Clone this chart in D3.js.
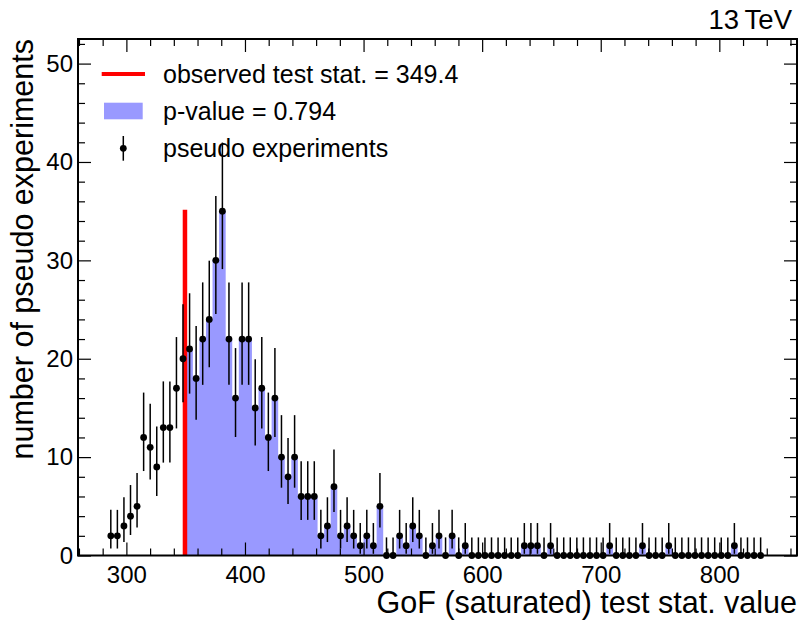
<!DOCTYPE html>
<html>
<head>
<meta charset="utf-8">
<script src="https://cdn.jsdelivr.net/npm/d3@7"></script>
<style>
  body { margin: 0; background: #fff; }
  text { font-family: "Liberation Sans", Arial, Helvetica, sans-serif; fill: #000; }
</style>
</head>
<body>
<svg id="chart" width="798" height="625"></svg>
<script>
// histogram of toy test statistics (100 bins)
var binLow = 284.1, binWidth = 5.535;
var counts = [2, 2, 3, 4, 5, 12, 11, 9, 13, 13,
              17, 20, 21, 18, 22, 24, 30, 35, 22, 16,
              22, 22, 15, 17, 12, 16, 10, 8, 10, 6,
              6, 6, 2, 3, 7, 2, 3, 2, 1, 2,
              1, 5, 0, 0, 2, 1, 3, 2, 0, 1,
              2, 0, 2, 0, 1, 0, 0, 0, 0, 0,
              0, 0, 0, 1, 1, 1, 0, 1, 0, 0,
              0, 0, 0, 0, 0, 0, 1, 0, 0, 0,
              0, 1, 0, 0, 0, 1, 0, 0, 0, 0,
              0, 0, 0, 0, 0, 1, 0, 0, 0, 0];
var observed = 349.4;
var pValue = "0.794";
var xTicks = [300, 400, 500, 600, 700, 800];
var yTicks = [0, 10, 20, 30, 40, 50];
var legendLabels = ["observed test stat. = " + observed, "p-value = " + pValue, "pseudo experiments"];

var padL = 78, padR = 797, padT = 39, padB = 555.5;
var svg = d3.select("#chart");

var x = d3.scaleLinear().domain([259.2, 865.5]).range([padL, padR]);
var y = d3.scaleLinear().domain([0, 52.5]).range([padB, padT]);

var bins = counts.map(function(n, i) {
    return { n: n, lo: binLow + i * binWidth, hi: binLow + (i + 1) * binWidth };
});

// Garwood (central 68.27%) poisson interval, integer shape so P(a,x) is a finite sum
function gammaP(a, t) {
    if (t <= 0) return 0;
    var term = 1, sum = 1;
    for (var k = 1; k < a; k++) { term *= t / k; sum += term; }
    return 1 - Math.exp(-t) * sum;
}
function gammaQuantile(p, a) {
    var lo = 0, hi = 200;
    for (var it = 0; it < 80; it++) {
        var mid = (lo + hi) / 2;
        if (gammaP(a, mid) < p) lo = mid; else hi = mid;
    }
    return (lo + hi) / 2;
}
var alpha = 1 - 0.682689;
bins.forEach(function(d) {
    d.low = d.n === 0 ? 0 : gammaQuantile(alpha / 2, d.n);
    d.up = gammaQuantile(1 - alpha / 2, d.n + 1);
});

// p-value area: step outline of the bins above the observed value
var tail = bins.filter(function(d) { return d.hi > observed; });
var steps = tail.map(function(d) { return { v: Math.max(d.lo, observed), n: d.n }; });
steps.push({ v: tail[tail.length - 1].hi, n: tail[tail.length - 1].n });
svg.append("path")
    .datum(steps)
    .attr("d", d3.area()
        .x(function(d) { return x(d.v); })
        .y0(y(0))
        .y1(function(d) { return y(d.n); })
        .curve(d3.curveStepAfter))
    .attr("fill", "#9999ff");

// observed line
svg.append("line")
    .attr("x1", x(observed)).attr("x2", x(observed))
    .attr("y1", y(0)).attr("y2", y(d3.max(counts) + 0.15))
    .attr("stroke", "#ff0000").attr("stroke-width", 4.5);

// pseudo experiments
var pts = svg.append("g");
pts.selectAll("line")
    .data(bins).enter().append("line")
    .attr("x1", function(d) { return x((d.lo + d.hi) / 2); })
    .attr("x2", function(d) { return x((d.lo + d.hi) / 2); })
    .attr("y1", function(d) { return y(d.low); })
    .attr("y2", function(d) { return y(d.up); })
    .attr("stroke", "#000").attr("stroke-width", 1.5);
pts.selectAll("circle")
    .data(bins).enter().append("circle")
    .attr("cx", function(d) { return x((d.lo + d.hi) / 2); })
    .attr("cy", function(d) { return y(d.n); })
    .attr("r", 3.4)
    .attr("fill", "#000");

// axes: ticks point inwards on all four sides
function minor(step, a, b) { return d3.range(a, b + 0.001, step); }
var xMinor = minor(20, 260, 860).filter(function(v) { return xTicks.indexOf(v) < 0; });
var yMinor = minor(2, 0, 52).filter(function(v) { return yTicks.indexOf(v) < 0; });

function addAxis(axis, tr, values, size, labels) {
    var g = svg.append("g").attr("transform", tr)
        .call(axis.tickValues(values).tickSizeInner(-size).tickSizeOuter(0)
            .tickFormat(labels ? d3.format("d") : ""));
    g.select(".domain").remove();
    g.selectAll("line").attr("stroke", "#000").attr("stroke-width", 1.2);
    return g;
}

var xb = addAxis(d3.axisBottom(x).tickPadding(10.5), "translate(0," + padB + ")", xTicks, 13, true);
addAxis(d3.axisBottom(x), "translate(0," + padB + ")", xMinor, 7, false);
addAxis(d3.axisTop(x), "translate(0," + padT + ")", xTicks, 13, false);
addAxis(d3.axisTop(x), "translate(0," + padT + ")", xMinor, 7, false);
var yl = addAxis(d3.axisLeft(y).tickPadding(5), "translate(" + padL + ",0)", yTicks, 13, true);
addAxis(d3.axisLeft(y), "translate(" + padL + ",0)", yMinor, 7, false);
addAxis(d3.axisRight(y), "translate(" + padR + ",0)", yTicks, 13, false);
addAxis(d3.axisRight(y), "translate(" + padR + ",0)", yMinor, 7, false);
xb.selectAll("text").attr("font-size", 24).attr("font-family", null);
yl.selectAll("text").attr("font-size", 24).attr("font-family", null);

// frame
svg.append("rect")
    .attr("x", padL).attr("y", padT)
    .attr("width", padR - padL).attr("height", padB - padT)
    .attr("fill", "none").attr("stroke", "#000").attr("stroke-width", 2);

// titles
svg.append("text")
    .attr("x", 797).attr("y", 613)
    .attr("text-anchor", "end").attr("font-size", 30.5)
    .text("GoF (saturated) test stat. value");
svg.append("text")
    .attr("transform", "translate(33,39) rotate(-90)")
    .attr("text-anchor", "end").attr("font-size", 30.5)
    .text("number of pseudo experiments");
svg.append("text")
    .attr("x", 792).attr("y", 28.5)
    .attr("text-anchor", "end").attr("font-size", 27.5)
    .text("13\u2009TeV");

// legend
var leg = svg.append("g");
leg.append("line")
    .attr("x1", 101.7).attr("x2", 145).attr("y1", 74).attr("y2", 74)
    .attr("stroke", "#ff0000").attr("stroke-width", 4);
leg.append("rect")
    .attr("x", 104).attr("y", 102.7).attr("width", 38.7).attr("height", 16.6)
    .attr("fill", "#9999ff");
leg.append("line")
    .attr("x1", 123.3).attr("x2", 123.3).attr("y1", 136).attr("y2", 160.7)
    .attr("stroke", "#000").attr("stroke-width", 1.5);
leg.append("circle")
    .attr("cx", 123.3).attr("cy", 148.3).attr("r", 3.4).attr("fill", "#000");
leg.selectAll("text")
    .data(legendLabels).enter().append("text")
    .attr("x", 163)
    .attr("y", function(d, i) { return 83 + i * 37.2; })
    .attr("font-size", 25)
    .text(function(d) { return d; });
</script>
</body>
</html>
